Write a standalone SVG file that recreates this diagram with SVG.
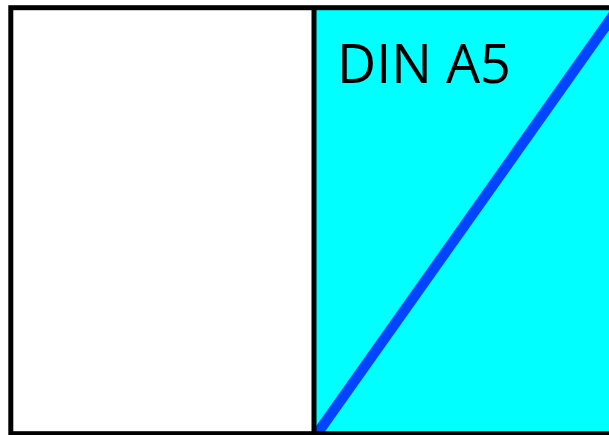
<svg xmlns="http://www.w3.org/2000/svg" width="609" height="435" viewBox="0 0 609 435">
<style>
.frame{fill:none;stroke:#000;stroke-width:5}
.label{font-family:"Open Sans","Noto Sans",sans-serif;font-size:54px;fill:#000}
</style>
<rect width="609" height="435" fill="#fff"/>
<g id="a5">
<rect x="314" y="7.7" width="310" height="426" fill="#00ffff"/>
<text class="label" x="337" y="83">DIN A5</text>
</g>
<g id="connectors">
<line x1="314" y1="438" x2="624" y2="0" stroke="#0044ff" stroke-width="10.5"/>
</g>
<g id="frame">
<rect class="frame" x="10.8" y="7.7" width="620" height="426"/>
<line class="frame" x1="314" y1="7.7" x2="314" y2="434"/>
</g>
</svg>
